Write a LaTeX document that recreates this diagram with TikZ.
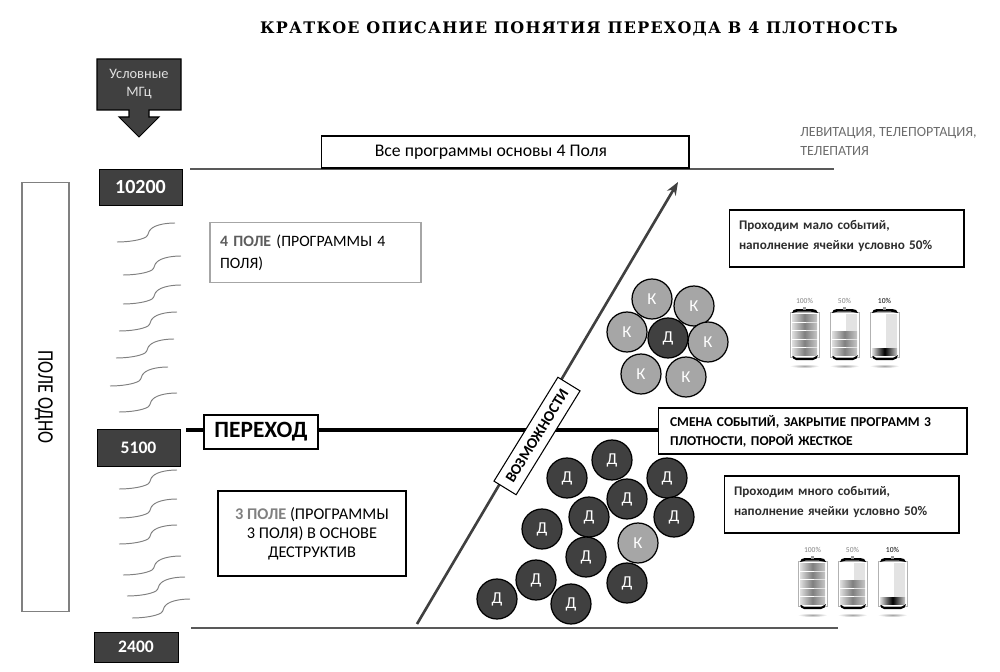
\documentclass[tikz,border=0pt]{standalone}
\usepackage{fontspec}
\setmainfont{Carlito}
\newfontfamily\titlefont[LetterSpace=8]{DejaVu Serif}
\usepackage{xcolor}
\usepackage{tikz}
\usetikzlibrary{arrows.meta, positioning, calc, backgrounds}

\definecolor{darkc}{HTML}{404040}
\definecolor{lightc}{HTML}{A6A6A6}

% one battery: left, top, number of bars, label, label colour, bar colour
\newcommand{\battcell}[6]{
  \begin{scope}[shift={(#1,#2)}]
    \shade[shading=radial, inner color=gray!70, outer color=white] (14.5,58) ellipse [x radius=15, y radius=2];
    \draw[gray!60, fill=white, line width=0.4pt] (0,4) rectangle (29,49);
    \fill[gray!22] (16,6) rectangle (27,47);
    \fill[black] (2,5) to[out=90, in=180] (7,1) -- (22,1) to[out=0, in=90] (28,5) -- (20,3.5) -- (8,3.5) -- cycle;
    \fill[gray!80] (13,-1) rectangle (16,2);
    \fill[black] (2,47) to[out=-90, in=180] (6,52) -- (23,52) to[out=0, in=-90] (28,47) -- (23,50) -- (6,50) -- cycle;
    \foreach \b in {1,...,#3}{
      \shade[left color=gray!25, right color=gray!45, middle color=#6]
        (2,{47-\b*8.5+2.3}) rectangle (27,{47-\b*8.5+8.5});
    }
    \node[font=\fontsize{4.3}{5}\selectfont, text=#5] (lbl#1x#3) at (14.5,-7) {#4};
  \end{scope}
}

\begin{document}
\begin{tikzpicture}[
  x=0.02cm, y=-0.02cm,
  lvl/.style={rectangle, draw=black, fill=darkc, text=white, font=\bfseries},
  box/.style={rectangle, draw=black, fill=white, line width=0.6pt, inner sep=0pt},
  dcell/.style={circle, draw=black, fill=darkc, text=white, minimum size=0.8cm,
                inner sep=0pt, line width=0.7pt, font=\fontsize{9.5}{9.5}\selectfont},
  kcell/.style={dcell, fill=lightc},
  wave/.style={gray, line width=0.55pt},
  rule/.style={gray!70!black, line width=0.7pt},
  arr/.style={-{Stealth[length=0.26cm,width=0.2cm]}, darkc, line width=1.5pt},
  trline/.style={black, line width=2pt}
]
\useasboundingbox (0,0) rectangle (1000,672);

\node[font=\titlefont\bfseries\fontsize{9.07}{10}\selectfont] (title) at (579,28.5)
  {КРАТКОЕ ОПИСАНИЕ ПОНЯТИЯ ПЕРЕХОДА В 4 ПЛОТНОСТЬ};

% scale on the left
\draw[fill=darkc, line width=0.6pt] (97,59) -- (181,59) -- (181,110) -- (149,110) -- (149,117)
  -- (159,117) -- (139,137) -- (119,117) -- (129,117) -- (129,110) -- (97,110) -- cycle;
\node[text=white!88!black, align=center, font=\fontsize{8.2}{10.3}\selectfont] (mhz) at (139,84)
  {Условные\\МГц};
\node[lvl, minimum width=1.66cm, minimum height=0.72cm, font=\bfseries\fontsize{11.4}{12}\selectfont] (l10200) at (140.5,187) {10200};
\node[lvl, minimum width=1.66cm, minimum height=0.74cm, font=\bfseries\fontsize{10}{12}\selectfont] (l5100) at (138.5,447.5) {5100};
\node[lvl, minimum width=1.68cm, minimum height=0.60cm, font=\bfseries\fontsize{10}{12}\selectfont] (l2400) at (136,647) {2400};

\node[box, draw=gray, minimum width=0.94cm, minimum height=8.6cm] (field) at (45.5,397) {};
\node[rotate=-90, font=\fontsize{10}{12}\selectfont] (fieldtxt) at (44,397) {\scalebox{1.03}[1.27]{ПОЛЕ ОДНО}};

\foreach \x/\y in {117/242, 123/275, 123/304, 119/331, 116/358, 110/386, 119/412,
                   119/489, 119/518, 119/544, 123/575, 127/596, 132/618}{
  \draw[wave] (\x,\y) .. controls (\x+12,\y) and (\x+24,\y-2) .. (\x+29,\y-5)
    .. controls (\x+32,\y-7) and (\x+31,\y-11) .. (\x+34,\y-13)
    .. controls (\x+38,\y-17) and (\x+48,\y-19) .. (\x+58,\y-19);
}

% boxes
\node[box, minimum width=7.36cm, minimum height=0.64cm, font=\fontsize{10.1}{12}\selectfont] (allprog) at (505,152)
  {Все программы основы 4 Поля\hspace{16pt}\mbox{}};
\node[box, draw=gray!70, minimum width=4.22cm, minimum height=1.2cm, align=left, text width=3.82cm,
      font=\fontsize{9}{12.6}\selectfont] (field4) at (315.5,252.5)
  {\textbf{\textcolor{darkc!85}{4 ПОЛЕ}} (ПРОГРАММЫ 4\\ПОЛЯ)};
\node[box, minimum width=3.76cm, minimum height=1.7cm, align=center,
      font=\fontsize{9.3}{10.8}\selectfont] (field3) at (312,533.5)
  {\textbf{\textcolor{gray}{3 ПОЛЕ}} (ПРОГРАММЫ\\3 ПОЛЯ) В ОСНОВЕ\\ДЕСТРУКТИВ};
\node[box, minimum width=2.28cm, minimum height=0.68cm, font=\bfseries\fontsize{13.3}{16}\selectfont] (perehod) at (261,432) {ПЕРЕХОД};
\node[box, minimum width=6.18cm, minimum height=0.92cm, align=left, text width=5.7cm,
      font=\bfseries\fontsize{7.7}{10.8}\selectfont] (smena) at (812.5,431)
  {СМЕНА СОБЫТИЙ, ЗАКРЫТИЕ ПРОГРАММ 3\\ПЛОТНОСТИ, ПОРОЙ ЖЕСТКОЕ};
\node[box, minimum width=4.7cm, minimum height=1.14cm, align=left, text width=4.3cm,
      font=\bfseries\fontsize{7.5}{11}\selectfont, text=darkc!70!black] (few) at (846.5,238.5)
  {Проходим мало событий,\\наполнение ячейки условно 50\%\\[-7pt]\mbox{}};
\node[box, minimum width=4.7cm, minimum height=1.14cm, align=left, text width=4.3cm,
      font=\bfseries\fontsize{7.5}{11}\selectfont, text=darkc!70!black] (many) at (841.5,504.5)
  {Проходим много событий,\\наполнение ячейки условно 50\%\\[-7pt]\mbox{}};
\node[anchor=north west, align=left, inner sep=0pt, text=gray!85!black,
      font=\fontsize{8}{10.3}\selectfont] (effects) at (800,127.5)
  {ЛЕВИТАЦИЯ, ТЕЛЕПОРТАЦИЯ,\\ТЕЛЕПАТИЯ};
\node[box, rotate=58.4, minimum width=2.44cm, minimum height=0.52cm,
      font=\bfseries\fontsize{8.6}{10}\selectfont] (chances) at (537,436) {ВОЗМОЖНОСТИ};

% cells above
\foreach \n/\x/\y in {a/652/299, b/694/306, c/627/332, d/708/342, e/641/374, f/686/377}{
  \node[kcell] (up\n) at (\x,\y) {К};
}
\node[dcell] (upg) at (668,338) {Д};
% cells below
\foreach \n/\x/\y in {a/567/478, b/612/460, c/667/478, d/627/499, e/589/517, f/674/517,
                      g/542/529, h/586/557, i/627/583, j/536/580, k/497/599, l/571/604}{
  \node[dcell] (lo\n) at (\x,\y) {Д};
}
\node[kcell] (lom) at (638,543) {К};

% lines
\coordinate (topL) at (190,169);
\coordinate (topR) at (834,169);
\coordinate (botL) at (191,628);
\coordinate (botR) at (838,628);
\coordinate (trL) at (186,430);
\coordinate (chancesA) at (417,624);
\coordinate (chancesB) at (678,182);
\begin{scope}[on background layer]
  \draw[rule] (topL) -- (topR);
  \draw[rule] (botL) -- (botR);
  \draw[trline] (trL) -- (smena.west |- trL);
  \draw[arr] (chancesA) -- (chancesB);
\end{scope}

% batteries
\battcell{790}{308}{5}{100\%}{gray}{gray}
\battcell{830}{308}{3}{50\%}{gray}{gray}
\battcell{870}{308}{1}{10\%}{black}{black}
\battcell{798}{557}{5}{100\%}{gray}{gray}
\battcell{838}{557}{3}{50\%}{gray}{gray}
\battcell{878}{557}{1}{10\%}{black}{black}
\end{tikzpicture}
\end{document}
